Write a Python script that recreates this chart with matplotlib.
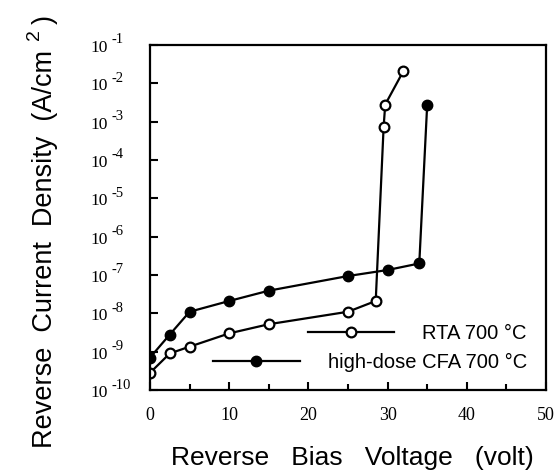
import numpy as np
import matplotlib
matplotlib.use("Agg")
import matplotlib.pyplot as plt
from matplotlib import transforms
from matplotlib.lines import Line2D

# RTA 700 C (open circles)
rta_v = [0, 2.5, 5, 10, 15, 25, 28.5, 29.5, 29.7, 32]
rta_j = [2.8e-10, 9e-10, 1.35e-9, 3e-9, 5.2e-9, 1.1e-8, 2.1e-8, 7.4e-4, 2.8e-3, 2.1e-2]

# high-dose CFA 700 C (filled circles)
cfa_v = [0, 2.5, 5, 10, 15, 25, 30, 34, 35]
cfa_j = [7e-10, 2.8e-9, 1.1e-8, 2.1e-8, 3.9e-8, 9.4e-8, 1.35e-7, 2e-7, 2.8e-3]

x_ticks = [0, 10, 20, 30, 40, 50]
y_exponents = [-1, -2, -3, -4, -5, -6, -7, -8, -9, -10]

sans = "Liberation Sans"
serif = "Liberation Serif"

fig = plt.figure(figsize=(5.58, 4.70), dpi=100)
ax = fig.add_axes([0.2688, 0.1702, 0.7097, 0.7341])

ax.plot(rta_v, rta_j, color="black", lw=1.6, marker="o", ms=7,
        mfc="white", mec="black", mew=1.6)
ax.plot(cfa_v, cfa_j, color="black", lw=1.6, marker="o", ms=7.5,
        mfc="black", mec="black")

ax.set_yscale("log")
ax.set_xlim(0, 50)
ax.set_ylim(1e-10, 1e-1)

for s in ax.spines.values():
    s.set_linewidth(1.6)

ax.set_xticks(x_ticks)
ax.set_xticks([5, 15, 25, 35, 45], minor=True)
ax.set_xticklabels([str(t) for t in x_ticks], fontfamily=serif, fontsize=13)
ax.tick_params(axis="x", which="major", direction="in", length=6, width=1.5, pad=12)
ax.tick_params(axis="x", which="minor", direction="in", length=4, width=1.5)

ax.set_yticks([10.0 ** e for e in y_exponents])
ax.yaxis.set_minor_locator(matplotlib.ticker.NullLocator())
ax.set_yticklabels([])
ax.tick_params(axis="y", which="major", direction="in", length=6, width=1.5)

# y tick labels: "10" with superscript exponent, left aligned
trans = transforms.blended_transform_factory(ax.transAxes, ax.transData)
for e in y_exponents:
    base = transforms.offset_copy(trans, fig=fig, x=0, y=-3, units="dots")
    ax.text(-0.1515, 10.0 ** e, "10", transform=base, ha="left", va="center",
            fontfamily=serif, fontsize=12.5, clip_on=False)
    sup = transforms.offset_copy(trans, fig=fig, x=0, y=5, units="dots")
    ax.text(-0.097, 10.0 ** e, "-" + str(-e), transform=sup, ha="left", va="center",
            fontfamily=serif, fontsize=10.5, clip_on=False)

# axis labels
fig.text(0.632, 0.0255, "Reverse   Bias   Voltage   (volt)", ha="center", va="center",
         fontfamily=sans, fontsize=19)
# y label split so the superscript 2 sits between "cm" and ")"
fig.text(0.081, 0.047, "Reverse  Current  Density  (A/cm", ha="center", va="bottom",
         rotation=90, fontfamily=sans, fontsize=19.5)
fig.text(0.081, 0.958, ")", ha="center", va="center", rotation=90,
         fontfamily=sans, fontsize=19.5)
fig.text(0.062, 0.926, "2", ha="center", va="center", rotation=90,
         fontfamily=sans, fontsize=14)

# legend, one entry per box so both are right aligned
h_rta = Line2D([], [], color="black", lw=1.6, marker="o", ms=7, mfc="white", mec="black", mew=1.6)
h_cfa = Line2D([], [], color="black", lw=1.6, marker="o", ms=7.5, mfc="black", mec="black")
leg1 = ax.legend([h_rta], ["RTA 700 °C"], loc="center right", bbox_to_anchor=(0.952, 0.165),
                 frameon=False, prop={"family": sans, "size": 14.5},
                 handlelength=4.3, handletextpad=1.4, borderpad=0, borderaxespad=0)
ax.add_artist(leg1)
ax.legend([h_cfa], ["high-dose CFA 700 °C"], loc="center right", bbox_to_anchor=(0.952, 0.081),
          frameon=False, prop={"family": sans, "size": 14.5},
          handlelength=4.3, handletextpad=1.4, borderpad=0, borderaxespad=0)

fig.savefig("out.png", dpi=100)
